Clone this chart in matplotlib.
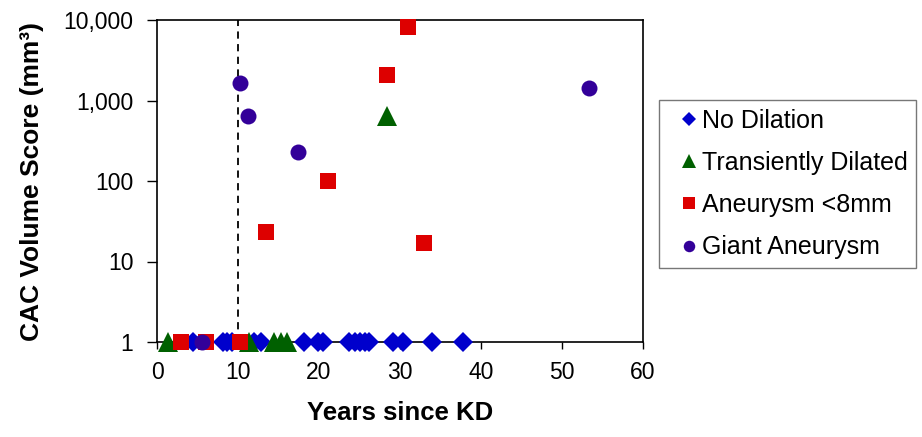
import matplotlib
matplotlib.use("Agg")
import matplotlib.pyplot as plt
from matplotlib.ticker import FixedLocator, FixedFormatter, NullLocator

plt.rcParams['font.family'] = ['Liberation Sans', 'DejaVu Sans']

# years since KD, CAC volume score (mm^3)
no_dil_x = [4.5, 8.2, 8.7, 9.2, 12.0, 12.8, 18.1, 19.9, 20.5, 23.7, 24.4,
            25.0, 25.7, 26.2, 29.1, 30.4, 33.9, 37.8]
no_dil_y = [1] * len(no_dil_x)
trans_x = [1.3, 11.4, 14.5, 15.3, 16.0, 28.4]
trans_y = [1, 1, 1, 1, 1, 650]
aneur_x = [3.0, 6.0, 10.3, 13.5, 21.1, 28.4, 31.0, 33.0]
aneur_y = [1, 1, 1, 23, 100, 2050, 8200, 17]
giant_x = [5.6, 10.2, 11.2, 17.4, 53.3]
giant_y = [1, 1650, 640, 230, 1430]

x_ticks = [0, 10, 20, 30, 40, 50, 60]
y_ticks = [1, 10, 100, 1000, 10000]
y_labels = ["1", "10", "100", "1,000", "10,000"]

fig = plt.figure(figsize=(9.22, 4.37), dpi=100)
ax = fig.add_axes([157 / 922, 1 - 342 / 437, (643 - 157) / 922, (342 - 20) / 437])

ax.axvline(10, color="black", linestyle=(0, (4, 3)), linewidth=1.3, zorder=1)

series = [
    (no_dil_x, no_dil_y, "D", "#0000CC", 10.5, "No Dilation"),
    (trans_x, trans_y, "^", "#006000", 14, "Transiently Dilated"),
    (aneur_x, aneur_y, "s", "#DD0000", 11.5, "Aneurysm <8mm"),
    (giant_x, giant_y, "o", "#330099", 11.5, "Giant Aneurysm"),
]
handles = []
for i, (xs, ys, mk, col, ms, lab) in enumerate(series):
    h, = ax.plot(xs, ys, linestyle="none", marker=mk, color=col, markersize=ms,
                 markeredgewidth=0, label=lab, clip_on=False, zorder=3 + i)
    handles.append(h)

ax.set_yscale("log")
ax.set_xlim(0, 60)
ax.set_ylim(1, 10000)
ax.xaxis.set_major_locator(FixedLocator(x_ticks))
ax.yaxis.set_major_locator(FixedLocator(y_ticks))
ax.yaxis.set_major_formatter(FixedFormatter(y_labels))
ax.yaxis.set_minor_locator(NullLocator())
ax.tick_params(axis="both", which="major", direction="out", width=1,
               labelsize=16.5, color="black")
ax.tick_params(axis="x", length=5, pad=9)
ax.tick_params(axis="y", length=7, pad=10)
for sp in ax.spines.values():
    sp.set_linewidth(1.2)
    sp.set_color("black")

ax.set_ylabel("CAC Volume Score (mm³)", fontsize=19, fontweight="bold", labelpad=14)
ax.set_xlabel("Years since KD", fontsize=18.5, fontweight="bold", labelpad=12)

leg = fig.legend(handles=handles, loc="upper left",
                 bbox_to_anchor=(659 / 922, 1 - 100 / 437), fontsize=18,
                 frameon=True, fancybox=False, edgecolor="#555555",
                 markerscale=0.72, handlelength=1.75, handletextpad=-0.38,
                 labelspacing=0.73, borderpad=0.34, borderaxespad=0)
leg.get_frame().set_linewidth(1.0)

fig.savefig("out.png", dpi=100)
